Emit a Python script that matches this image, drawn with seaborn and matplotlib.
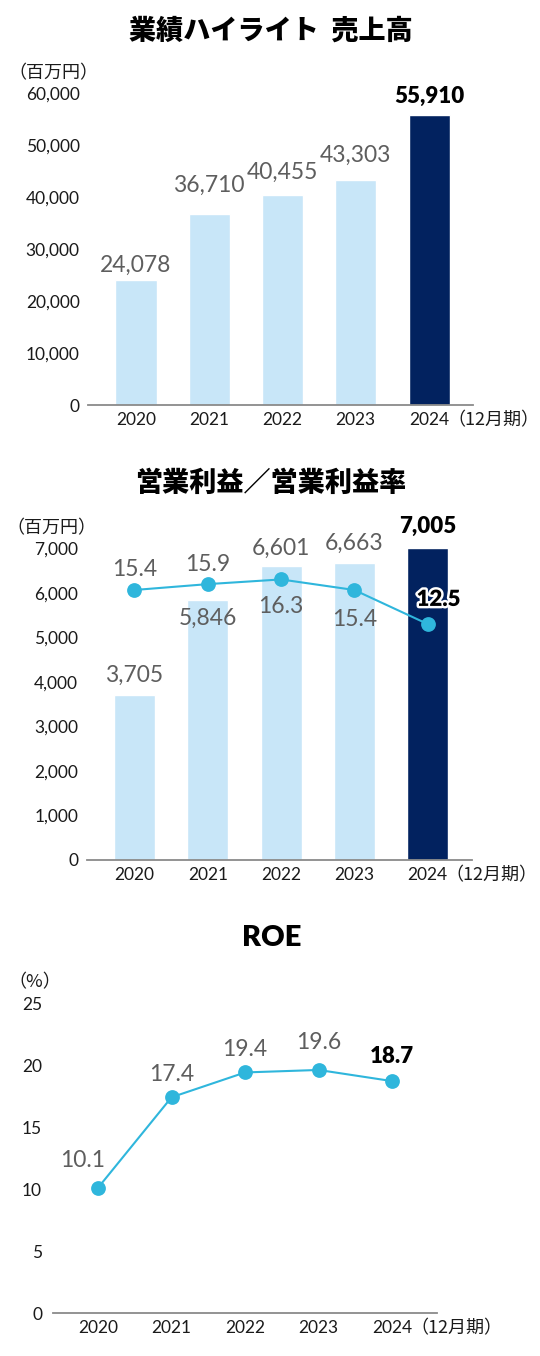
import matplotlib
matplotlib.use("Agg")
import matplotlib.pyplot as plt
import matplotlib.patheffects as pe
import seaborn as sns
import pandas as pd

# Données
years = ["2020", "2021", "2022", "2023", "2024"]
sales = [24078, 36710, 40455, 43303, 55910]
op_income = [3705, 5846, 6601, 6663, 7005]
op_margin = [15.4, 15.9, 16.3, 15.4, 12.5]
roe = [10.1, 17.4, 19.4, 19.6, 18.7]

sales_ticks = [0, 10000, 20000, 30000, 40000, 50000, 60000]
op_ticks = [0, 1000, 2000, 3000, 4000, 5000, 6000, 7000]
roe_ticks = [0, 5, 10, 15, 20, 25]

# Couleurs
LIGHT = "#c8e6f8"
NAVY = "#02225f"
LINE = "#2fb6dc"
GREY_TXT = "#5e5e5e"
AXIS = "#8a8a8a"
DARK = "#1a1a1a"

sns.set_style("white")
plt.rcParams["font.family"] = ["Lato", "Noto Sans CJK JP", "DejaVu Sans"]
plt.rcParams["text.color"] = DARK
CJK = ["Noto Sans CJK JP", "DejaVu Sans"]

W, H = 540, 1356
fig = plt.figure(figsize=(W / 100, H / 100), dpi=100)


def rect(left, top, right, bottom):
    # rectangle en pixels -> fractions de la figure
    return [left / W, 1 - bottom / H, (right - left) / W, (bottom - top) / H]


def style_axis(ax, ticks, ypad):
    sns.despine(ax=ax, left=True)
    ax.spines["bottom"].set_color(AXIS)
    ax.spines["bottom"].set_linewidth(1.3)
    ax.set_yticks(ticks)
    ax.set_yticklabels([f"{t:,}" for t in ticks])
    ax.tick_params(axis="both", length=0, labelsize=12.5, colors=DARK)
    ax.tick_params(axis="x", pad=5)
    ax.tick_params(axis="y", pad=ypad)
    ax.set_xlabel("")
    ax.set_ylabel("")


def period_label(ax):
    ax.annotate("（12月期）", xy=(len(years) - 1, 0), xycoords=("data", "axes fraction"),
                xytext=(13, -4.5), textcoords="offset points", ha="left", va="top",
                fontsize=13, color=DARK, family=CJK)


def value_label(ax, x, y, text, dy, bold=False, dx=0, va="baseline", outline=False):
    t = ax.annotate(text, xy=(x, y), xytext=(dx, dy), textcoords="offset points",
                    ha="center", va=va, fontsize=16 if bold else 16.5,
                    fontweight="heavy" if bold else "normal",
                    color="black" if bold else GREY_TXT, annotation_clip=False, zorder=10)
    if outline:
        t.set_path_effects([pe.withStroke(linewidth=3.5, foreground="white")])


is_latest = ["latest" if y == years[-1] else "past" for y in years]
palette = {"past": LIGHT, "latest": NAVY}

# 1. Ventes
fig.text(271 / W, 1 - 30 / H, "業績ハイライト  売上高", ha="center", va="center",
         fontsize=19.5, fontweight="heavy", family=CJK, color="black")
fig.text(8 / W, 1 - 73 / H, "（百万円）", ha="left", va="center", fontsize=13, family=CJK)
ax1 = fig.add_axes(rect(88, 93.5, 473, 405))
sns.barplot(x=years, y=sales, hue=is_latest, palette=palette, width=0.56,
            legend=False, ax=ax1, saturation=1)
ax1.set_xlim(-0.655, 4.6)
ax1.set_ylim(0, 60000)
style_axis(ax1, sales_ticks, 6)
period_label(ax1)
gaps1 = [6, 16, 11.5, 13.5, 8.5]
for i, v in enumerate(sales):
    value_label(ax1, i, v, f"{v:,}", gaps1[i], bold=(i == len(sales) - 1))

# 2. Résultat d'exploitation / marge
fig.text(271 / W, 1 - 483 / H, "営業利益／営業利益率", ha="center", va="center",
         fontsize=19.5, fontweight="heavy", family=CJK, color="black")
fig.text(6 / W, 1 - 528 / H, "（百万円）", ha="left", va="center", fontsize=13, family=CJK)
ax2 = fig.add_axes(rect(86.5, 548.5, 471.5, 860))
sns.barplot(x=years, y=op_income, hue=is_latest, palette=palette, width=0.56,
            legend=False, ax=ax2, saturation=1)
ax2.set_xlim(-0.655, 4.6)
ax2.set_ylim(0, 7000)
style_axis(ax2, op_ticks, 6)
period_label(ax2)

ax2b = ax2.twinx()
sns.pointplot(x=years, y=op_margin, color=LINE, markers="o", markersize=9.5,
              linewidth=1.5, ax=ax2b)
ax2b.set_xlim(-0.655, 4.6)
ax2b.set_ylim(-7.64, 18.94)
ax2b.axis("off")

bar_dy2 = [9.5, -6, 8, 9.5, 11]
for i, v in enumerate(op_income):
    value_label(ax2, i, v, f"{v:,}", bar_dy2[i], bold=(i == len(op_income) - 1),
                va="top" if bar_dy2[i] < 0 else "baseline")
rate_dy2 = [10, 9.5, -12, -13.5, 13]
rate_dx2 = [0, 0, 0, 0, 8]
for i, v in enumerate(op_margin):
    value_label(ax2b, i, v, f"{v}", rate_dy2[i], bold=(i == len(op_margin) - 1),
                dx=rate_dx2[i], va="top" if rate_dy2[i] < 0 else "baseline",
                outline=(i == len(op_margin) - 1))

# 3. ROE
fig.text(272 / W, 1 - 938 / H, "ROE", ha="center", va="center",
         fontsize=21, fontweight="heavy", color="black")
fig.text(8 / W, 1 - 982 / H, "（%）", ha="left", va="center", fontsize=13, family=CJK)
ax3 = fig.add_axes(rect(53.2, 1003, 437, 1313))
sns.pointplot(x=years, y=roe, color=LINE, markers="o", markersize=9.5,
              linewidth=1.5, ax=ax3)
ax3.set_xlim(-0.61, 4.61)
ax3.set_ylim(0, 25)
style_axis(ax3, roe_ticks, 8)
period_label(ax3)
roe_dy = [15, 12, 12, 15, 13]
roe_dx = [-11, 0, 0, 0, 0]
for i, v in enumerate(roe):
    value_label(ax3, i, v, f"{v}", roe_dy[i], bold=(i == len(roe) - 1), dx=roe_dx[i])

fig.savefig("out.png", dpi=100)
